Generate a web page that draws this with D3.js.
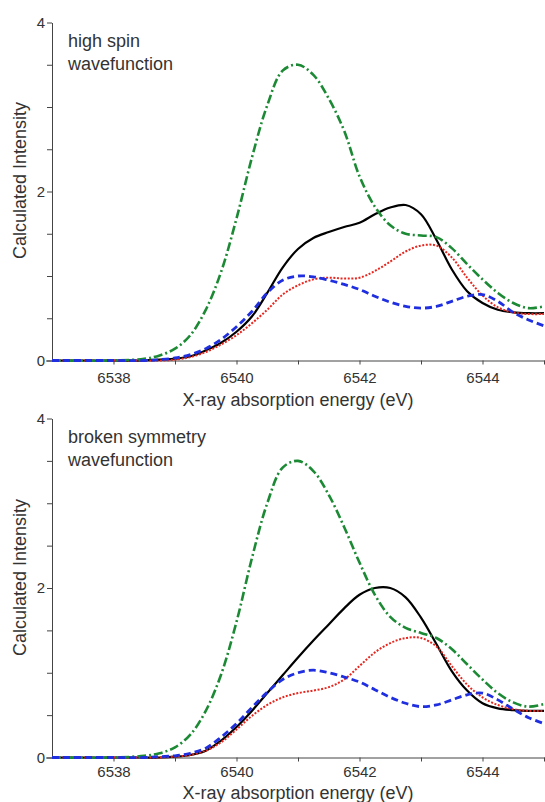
<!doctype html>

<head>
    <meta charset="UTF-8">
    <style>
        body { margin: 0; background: #fff; }
        text { font-family: "Liberation Sans", Arial, sans-serif; fill: #333; }
    </style>
</head>

<body>
    <svg id="my_dataviz" width="545" height="802"></svg>
    <script src="https://d3js.org/d3.v7.min.js"></script>
    <script>

        // Energy grid (eV) shared by all the curves
        var energy = [6537, 6538, 6538.5, 6538.75, 6539, 6539.25, 6539.5, 6539.75, 6540, 6540.25, 6540.5, 6540.75,
            6541, 6541.25, 6541.5, 6541.75, 6542, 6542.25, 6542.5, 6542.75, 6543, 6543.25, 6543.5, 6543.75,
            6544, 6544.25, 6544.5, 6544.75, 6545];

        // high spin wavefunction
        var hsGreen = [0, 0, 0.02, 0.06, 0.14, 0.3, 0.6, 1.05, 1.68, 2.4, 3.02, 3.43, 3.5, 3.38, 3.1, 2.72, 2.18, 1.82, 1.6, 1.5, 1.48, 1.46, 1.33, 1.14, 0.96, 0.8, 0.68, 0.62, 0.64];
        var hsBlack = [0, 0, 0, 0.01, 0.02, 0.05, 0.12, 0.21, 0.34, 0.52, 0.8, 1.1, 1.32, 1.45, 1.52, 1.58, 1.63, 1.73, 1.81, 1.84, 1.73, 1.43, 1.08, 0.82, 0.68, 0.6, 0.57, 0.56, 0.56];
        var hsRed = [0, 0, 0, 0, 0.01, 0.04, 0.1, 0.19, 0.3, 0.44, 0.6, 0.78, 0.89, 0.96, 0.98, 0.97, 0.98, 1.06, 1.17, 1.29, 1.36, 1.36, 1.22, 0.98, 0.77, 0.63, 0.57, 0.55, 0.55];
        var hsBlue = [0, 0, 0, 0.01, 0.03, 0.07, 0.14, 0.25, 0.4, 0.58, 0.8, 0.95, 1.0, 0.99, 0.95, 0.9, 0.84, 0.76, 0.69, 0.64, 0.62, 0.64, 0.7, 0.76, 0.78, 0.7, 0.57, 0.48, 0.41];

        // broken symmetry wavefunction
        var bsGreen = [0, 0, 0.02, 0.05, 0.12, 0.27, 0.55, 0.98, 1.6, 2.35, 3.0, 3.42, 3.5, 3.38, 3.1, 2.72, 2.3, 1.92, 1.66, 1.53, 1.47, 1.41, 1.28, 1.1, 0.92, 0.76, 0.65, 0.6, 0.63];
        var bsBlack = [0, 0, 0, 0, 0.01, 0.03, 0.08, 0.2, 0.36, 0.55, 0.76, 0.97, 1.18, 1.38, 1.57, 1.76, 1.92, 2.0, 2.0, 1.89, 1.65, 1.34, 1.02, 0.79, 0.64, 0.58, 0.56, 0.55, 0.55];
        var bsRed = [0, 0, 0, 0, 0.01, 0.03, 0.08, 0.18, 0.33, 0.49, 0.62, 0.71, 0.76, 0.79, 0.83, 0.92, 1.08, 1.24, 1.35, 1.41, 1.41, 1.31, 1.08, 0.86, 0.71, 0.62, 0.57, 0.55, 0.55];
        var bsBlue = [0, 0, 0, 0.01, 0.02, 0.05, 0.11, 0.24, 0.4, 0.59, 0.77, 0.92, 1.0, 1.03, 1.0, 0.95, 0.89, 0.8, 0.71, 0.64, 0.6, 0.62, 0.68, 0.74, 0.76, 0.68, 0.57, 0.47, 0.4];

        // ticks
        var xTickLabels = [6538, 6540, 6542, 6544];
        var yTickLabels = [0, 2, 4];

        var svg = d3.select("svg");

        var x = d3.scaleLinear().domain([6537, 6545]).range([52, 544]);

        var panels = [
            { label: ["high spin", "wavefunction"], top: 22.5, bottom: 360.5, tickDy: 26, titleDy: 45,
              series: [hsBlack, hsRed, hsGreen, hsBlue] },
            { label: ["broken symmetry", "wavefunction"], top: 418.5, bottom: 757.5, tickDy: 23, titleDy: 41,
              series: [bsBlack, bsRed, bsGreen, bsBlue] }
        ];

        // black solid, red dotted, green dash-dot, blue dashed
        var styles = [
            { color: "#000000", width: 2.2, dash: null },
            { color: "#e8261e", width: 2, dash: "2,1.6" },
            { color: "#1c8a34", width: 2.6, dash: "9,3,2,3" },
            { color: "#1f2fe0", width: 2.8, dash: "7,4" }
        ];

        panels.forEach(function (p) {
            var y = d3.scaleLinear().domain([0, 4]).range([p.bottom, p.top]);
            var g = svg.append("g");

            // x axis
            var xAxis = d3.axisBottom(x)
                .tickValues(d3.range(6538, 6546, 1))
                .tickSize(4)
                .tickFormat(function (d) { return xTickLabels.indexOf(d) >= 0 ? d : ""; });
            var gx = g.append("g")
                .attr("transform", "translate(0," + p.bottom + ")")
                .call(xAxis);
            gx.select(".domain").attr("d", "M46,0.5H545").attr("stroke", "#444");
            gx.selectAll(".tick line").attr("stroke", "#444");
            gx.selectAll(".tick text")
                .attr("y", p.tickDy - 14)
                .style("font-size", "15px")
                .attr("fill", "#333");

            // y axis
            var yAxis = d3.axisLeft(y)
                .tickValues(d3.range(0, 4.01, 0.5))
                .tickSize(5)
                .tickSizeOuter(0)
                .tickFormat(function (d) { return yTickLabels.indexOf(d) >= 0 ? d : ""; });
            var gy = g.append("g")
                .attr("transform", "translate(52,0)")
                .call(yAxis);
            gy.select(".domain").attr("stroke", "#444");
            gy.selectAll(".tick line").attr("stroke", "#444");
            gy.selectAll(".tick text")
                .attr("x", -7)
                .style("font-size", "15px")
                .attr("fill", "#333");

            // axis titles
            g.append("text")
                .attr("x", 298)
                .attr("y", p.bottom + p.titleDy)
                .attr("text-anchor", "middle")
                .style("font-size", "18px")
                .text("X-ray absorption energy (eV)");

            g.append("text")
                .attr("transform", "translate(26," + (p.bottom - 180) + ") rotate(-90)")
                .attr("text-anchor", "middle")
                .style("font-size", "18px")
                .text("Calculated Intensity");

            // panel label
            p.label.forEach(function (s, i) {
                g.append("text")
                    .attr("x", 68)
                    .attr("y", p.top + 24.5 + i * 22.5)
                    .style("font-size", "18px")
                    .text(s);
            });

            // curves
            var line = d3.line()
                .x(function (d, i) { return x(energy[i]); })
                .y(function (d) { return y(d); })
                .curve(d3.curveCatmullRom.alpha(0.5));

            p.series.forEach(function (vals, k) {
                var st = styles[k];
                g.append("path")
                    .datum(vals)
                    .attr("fill", "none")
                    .attr("stroke", st.color)
                    .attr("stroke-width", st.width)
                    .attr("stroke-dasharray", st.dash)
                    .attr("d", line);
            });
        });

    </script>
</body>
